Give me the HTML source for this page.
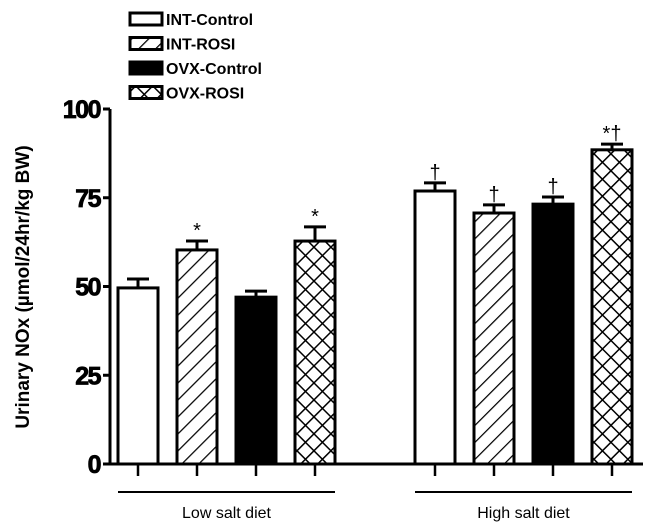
<!DOCTYPE html>
<html><head><meta charset="utf-8"><style>
body{margin:0;background:#fff}svg{display:block}
text{font-family:"Liberation Sans",Arial,sans-serif;font-weight:bold;fill:#000}
text.norm{font-weight:normal}
</style></head><body>
<svg id="chart" width="654" height="532" viewBox="0 0 654 532">
<defs>
<pattern id="diag" patternUnits="userSpaceOnUse" width="12" height="12" patternTransform="rotate(45)"><rect width="12" height="12" fill="#fff"/><line x1="0" y1="0" x2="0" y2="12" stroke="#000" stroke-width="2.5"/></pattern>
<pattern id="cross" patternUnits="userSpaceOnUse" width="12" height="12" patternTransform="rotate(45)"><rect width="12" height="12" fill="#fff"/><line x1="0" y1="0" x2="0" y2="12" stroke="#000" stroke-width="3"/><line x1="0" y1="0" x2="12" y2="0" stroke="#000" stroke-width="3"/></pattern>
</defs>
<g id="plot"></g>
</svg>
<script>
const groups = ["Low salt diet", "High salt diet"];
const series = ["INT-Control", "INT-ROSI", "OVX-Control", "OVX-ROSI"];
const values = [49.6, 60.3, 47.0, 62.8, 76.9, 70.7, 73.2, 88.5];
const errors = [2.5, 2.5, 1.7, 4.0, 2.3, 2.3, 2.0, 1.6];
const marks = ["", "*", "", "*", "†", "†", "†", "*†"];
const yTicks = [0, 25, 50, 75, 100];

const NS = "http://www.w3.org/2000/svg";
const g = document.getElementById("plot");
function el(t, a, p) { const e = document.createElementNS(NS, t); for (const k in a) e.setAttribute(k, a[k]); (p || g).appendChild(e); return e; }
const y0 = 464, yScale = 3.55;
function yPos(v) { return y0 - v * yScale; }
const barW = 40;
function xPos(i) { const grp = Math.floor(i / 4), k = i % 4; return (grp === 0 ? 118 : 415) + k * 59; }
const fills = ["#fff", "url(#diag)", "#000", "url(#cross)"];

let e = el("line", { x1: 110, y1: yPos(100), x2: 110, y2: y0 + 1.5, stroke: "#000", "stroke-width": 3 });


yTicks.forEach(t => {
  const tk = el("line", { x1: 103, y1: yPos(t), x2: 110, y2: yPos(t), stroke: "#000", "stroke-width": 3 });
  
  
  const tl = el("text", { x: 100, y: yPos(t) + 9, "text-anchor": "end", "font-size": 25, "letter-spacing": "-1.5", stroke: "#000", "stroke-width": 0.8 });
  tl.textContent = t;
  
  
});
e = el("text", { x: 0, y: 0, "text-anchor": "middle", "font-size": 19, transform: "translate(29,287) rotate(-90)" });
e.textContent = "Urinary NOx (µmol/24hr/kg BW)";



values.forEach((v, i) => {
  const x = xPos(i), k = i % 4, top = yPos(v), et = yPos(v + errors[i]);
  const cx = x + barW / 2;
  const eb = el("path", { d: `M${cx} ${top}V${et}M${cx - 11} ${et}H${cx + 11}`, stroke: "#000", "stroke-width": 3, fill: "none" });
  
  
  const r = el("rect", { x: x, y: top, width: barW, height: y0 - top, fill: fills[k], stroke: "#000", "stroke-width": 3 });
  
  
  const tk = el("line", { x1: cx, y1: y0, x2: cx, y2: y0 + 12, stroke: "#000", "stroke-width": 2.5 });
  
  
  if (marks[i]) {
    const m = el("text", { x: cx, y: et - 4, "text-anchor": "middle", "font-size": 20, "class": "norm" });
    m.textContent = marks[i];
    
    
  }
});
e = el("line", { x1: 110, y1: y0, x2: 643, y2: y0, stroke: "#000", "stroke-width": 3 });



groups.forEach((name, gi) => {
  const x1 = xPos(gi * 4), x2 = xPos(gi * 4 + 3) + barW;
  const ln = el("line", { x1: x1, y1: 492, x2: x2, y2: 492, stroke: "#000", "stroke-width": 2 });
  
  
  const t = el("text", { x: (x1 + x2) / 2, y: 518, "text-anchor": "middle", "font-size": 16, "class": "norm" });
  t.textContent = name;
  
  
});

series.forEach((s, k) => {
  const cy = 19 + k * 24.5;
  const sw = el("rect", { x: 130, y: cy - 6, width: 32, height: 12, fill: fills[k], stroke: "#000", "stroke-width": 3 });
  
  
  const t = el("text", { x: 166, y: cy + 6, "font-size": 16 });
  t.textContent = s;
  
  
});
</script>
</body></html>
